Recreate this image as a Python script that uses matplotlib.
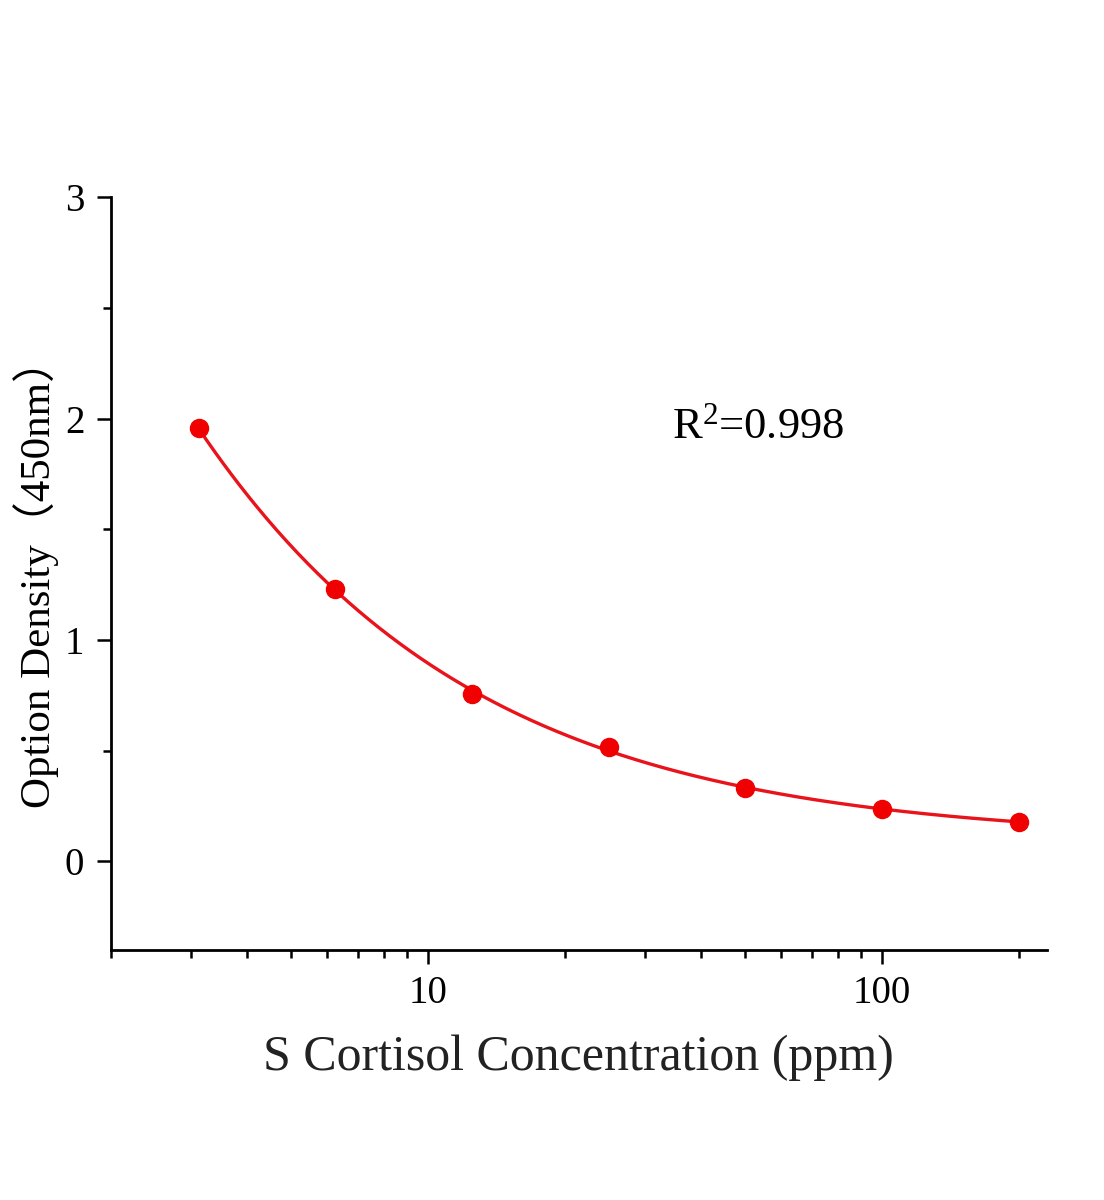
import numpy as np
import matplotlib
matplotlib.use("Agg")
import matplotlib.pyplot as plt
from matplotlib.ticker import LogLocator, NullFormatter, FixedLocator

concentration = [3.125, 6.25, 12.5, 25, 50, 100, 200]
od_450 = [1.955, 1.228, 0.755, 0.518, 0.333, 0.237, 0.176]
r2_text = "R$^2$=0.998"
x_label = "S Cortisol Concentration (ppm)"
y_label = "Option Density（450nm）"

x = np.array(concentration, dtype=float)
y = np.array(od_450, dtype=float)

# 4-parameter logistic fit: y = d + (a-d)/(1+(x/c)^b), grid over b,c with linear lstsq for a,d
best = None
for b in np.linspace(0.3, 3.0, 136):
    for logc in np.linspace(-1, 3, 201):
        c = 10 ** logc
        g = 1.0 / (1.0 + (x / c) ** b)
        A = np.column_stack([g, 1 - g])
        coef, *_ = np.linalg.lstsq(A, y, rcond=None)
        res = np.sum((A @ coef - y) ** 2)
        if best is None or res < best[0]:
            best = (res, b, c, coef)
_, b, c, (a, d) = best
xf = np.logspace(np.log10(x.min()), np.log10(x.max()), 400)
gf = 1.0 / (1.0 + (xf / c) ** b)
yf = a * gf + d * (1 - gf)

plt.rcParams['font.family'] = ['Liberation Serif', 'Noto Sans CJK SC']
plt.rcParams['mathtext.fontset'] = 'custom'
plt.rcParams['mathtext.rm'] = 'Liberation Serif'
plt.rcParams['mathtext.it'] = 'Liberation Serif:italic'
plt.rcParams['mathtext.bf'] = 'Liberation Serif:bold'
plt.rcParams['mathtext.default'] = 'rm'

fig = plt.figure(figsize=(11.04, 12), dpi=100)
ax = fig.add_axes([0.1003, 0.2083, 0.8480, 0.6275])

ax.plot(xf, yf, color='#e8131b', lw=2.4, zorder=2)
ax.plot(x, y, 'o', color='#f00000', ms=13, zorder=3)

ax.set_xscale('log')
ax.set_xlim(2, 231)
ax.set_ylim(-0.4, 3)
ax.xaxis.set_major_locator(FixedLocator([10, 100]))
ax.xaxis.set_minor_locator(LogLocator(base=10, subs=np.arange(2, 10)))
ax.xaxis.set_minor_formatter(NullFormatter())
ax.set_xticklabels(['10', '100'])
ax.yaxis.set_major_locator(FixedLocator([0, 1, 2, 3]))
ax.yaxis.set_minor_locator(FixedLocator([0.5, 1.5, 2.5]))
ax.set_yticklabels(['0', '1', '2', '3'])

for s in ['top', 'right']:
    ax.spines[s].set_visible(False)
for s in ['left', 'bottom']:
    ax.spines[s].set_linewidth(2.0)

ax.tick_params(which='major', direction='out', length=10, width=1.8, labelsize=28)
ax.tick_params(axis='y', which='major', pad=9)
ax.tick_params(axis='x', which='major', pad=8)
ax.tick_params(which='minor', direction='out', length=5.5, width=1.8)

ax.set_xlabel(x_label, fontsize=36, labelpad=16, color='#222222')
ax.set_ylabel(y_label, fontsize=31, labelpad=4)

ax.text(34.5, 1.91, r2_text, fontsize=32, ha='left', va='baseline')

fig.savefig('out.png', dpi=100)
